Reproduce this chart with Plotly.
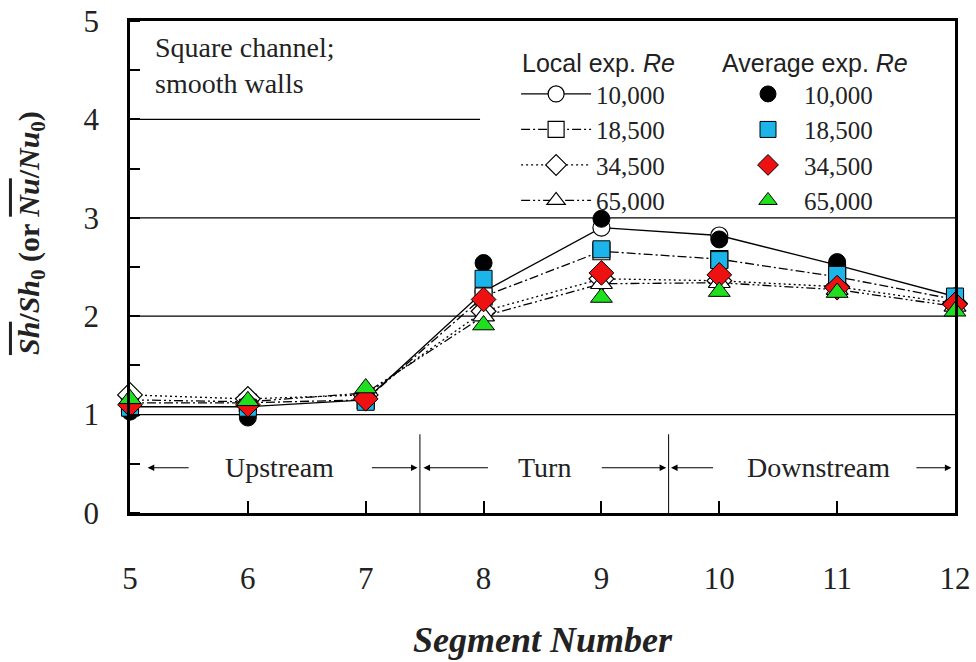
import plotly.graph_objects as go

# Segment positions along the channel
segments = [5, 6, 7, 8, 9, 10, 11, 12]

# Reynolds number labels
re_labels = ["10,000", "18,500", "34,500", "65,000"]

# Local experiment (lines with open symbols)
local_10000 = [1.08, 1.08, 1.15, 2.25, 2.90, 2.82, 2.52, 2.20]
local_18500 = [1.12, 1.12, 1.15, 2.20, 2.66, 2.58, 2.40, 2.17]
local_34500 = [1.20, 1.16, 1.20, 2.05, 2.38, 2.36, 2.30, 2.13]
local_65000 = [1.15, 1.13, 1.22, 2.00, 2.33, 2.34, 2.27, 2.10]

# Average experiment (filled symbols)
avg_10000 = [1.03, 0.97, 1.15, 2.54, 2.99, 2.78, 2.55, 2.20]
avg_18500 = [1.07, 1.07, 1.13, 2.38, 2.68, 2.57, 2.42, 2.20]
avg_34500 = [1.10, 1.10, 1.16, 2.17, 2.44, 2.42, 2.29, 2.12]
avg_65000 = [1.16, 1.14, 1.27, 1.91, 2.19, 2.25, 2.24, 2.05]

local_series = [local_10000, local_18500, local_34500, local_65000]
avg_series = [avg_10000, avg_18500, avg_34500, avg_65000]

symbols = ["circle", "square", "diamond", "triangle-up"]
line_dashes = ["solid", "9px,3px,2px,3px", "2px,3px", "9px,3px,2px,3px,2px,3px"]
fill_colors = ["#000000", "#1BB5EA", "#EE1111", "#1FE01F"]
marker_sizes = [17, 17, 19, 19]

SERIF = "Liberation Serif"
SANS = "Liberation Sans"
TEXT = "#222222"

fig = go.Figure()

for i, ys in enumerate(local_series):
    fig.add_trace(go.Scatter(
        x=segments, y=ys, mode="lines+markers",
        name=re_labels[i], legend="legend",
        line=dict(color="black", width=1.3, dash=line_dashes[i]),
        marker=dict(symbol=symbols[i], size=marker_sizes[i], color="white",
                    line=dict(color="black", width=1.2)),
        cliponaxis=False,
    ))

for i, ys in enumerate(avg_series):
    fig.add_trace(go.Scatter(
        x=segments, y=ys, mode="markers",
        name=re_labels[i], legend="legend2",
        marker=dict(symbol=symbols[i], size=marker_sizes[i], color=fill_colors[i],
                    line=dict(color="black", width=1)),
        cliponaxis=False,
    ))

# Horizontal reference lines
shapes = []
for yv in [1, 2, 3]:
    shapes.append(dict(type="line", xref="x", yref="y", x0=5, x1=12, y0=yv, y1=yv,
                       line=dict(color="black", width=1.3), layer="below"))
shapes.append(dict(type="line", xref="x", yref="y", x0=5, x1=7.97, y0=4, y1=4,
                   line=dict(color="black", width=1.3), layer="below"))
# Region separators
for xv in [7.46, 9.57]:
    shapes.append(dict(type="line", xref="x", yref="y", x0=xv, x1=xv, y0=0, y1=0.8,
                       line=dict(color="black", width=1), layer="below"))
fig.update_layout(shapes=shapes)

annotations = []
# Region labels with arrows
regions = [
    ("Upstream", 6.27, (5.51, 5.15), (7.04, 7.44)),
    ("Turn", 8.52, (8.05, 7.49), (8.99, 9.55)),
    ("Downstream", 10.84, (9.96, 9.59), (11.66, 11.97)),
]
ya = 0.46
for label, xc, left_arrow, right_arrow in regions:
    annotations.append(dict(x=xc, y=ya, xref="x", yref="y", text=label, showarrow=False,
                            font=dict(family=SERIF, size=28, color=TEXT)))
    for tail, head in (left_arrow, right_arrow):
        annotations.append(dict(x=head, y=ya, ax=tail, ay=ya, xref="x", yref="y",
                                axref="x", ayref="y", text="", showarrow=True,
                                arrowhead=2, arrowsize=1.1, arrowwidth=1.2,
                                arrowcolor="black"))

annotations.append(dict(x=0.028, y=0.982, xref="paper", yref="paper", xanchor="left",
                        yanchor="top", align="left", showarrow=False,
                        text="Square channel;<br>smooth walls",
                        font=dict(family=SERIF, size=28, color=TEXT)))
annotations.append(dict(x=0.4727, y=0.915, xref="paper", yref="paper", xanchor="left",
                        yanchor="middle", showarrow=False, text="Local exp. <i>Re</i>",
                        font=dict(family=SANS, size=25, color=TEXT)))
annotations.append(dict(x=0.715, y=0.915, xref="paper", yref="paper", xanchor="left",
                        yanchor="middle", showarrow=False, text="Average exp. <i>Re</i>",
                        font=dict(family=SANS, size=25, color=TEXT)))

# Vertical axis title
ytitle = ("<b><span style='text-decoration:overline'><i>Sh</i></span>/<i>Sh</i><sub>0</sub>"
          " (or <span style='text-decoration:overline'><i>Nu</i></span>/<i>Nu</i><sub>0</sub>)</b>")
annotations.append(dict(x=-0.12, y=0.569, xref="paper", yref="paper", xanchor="center",
                        yanchor="middle", textangle=-90, showarrow=False, text=ytitle,
                        font=dict(family=SERIF, size=30, color=TEXT)))
fig.update_layout(annotations=annotations)

fig.update_layout(
    width=976, height=662,
    margin=dict(l=130, r=21, t=21, b=149),
    paper_bgcolor="white", plot_bgcolor="white",
    font=dict(family=SERIF, color=TEXT),
    xaxis=dict(range=[5, 12], tickvals=segments, ticks="inside", ticklen=12,
               tickwidth=2, tickcolor="black", showgrid=False, zeroline=False,
               showline=True, linecolor="black", linewidth=2.5, mirror=True,
               tickfont=dict(family=SERIF, size=31), ticklabelstandoff=36,
               automargin=False,
               title=dict(text="<b><i>Segment Number</i></b>",
                          font=dict(family=SERIF, size=36), standoff=32)),
    yaxis=dict(range=[0, 5], tickvals=[0, 1, 2, 3, 4, 5], ticks="", showgrid=False,
               zeroline=False, showline=True, linecolor="black", linewidth=2.5,
               mirror=True, tickfont=dict(family=SERIF, size=31), ticklabelstandoff=22,
               automargin=False,
               minor=dict(dtick=0.5, ticks="inside", ticklen=10, tickwidth=2,
                          tickcolor="black", showgrid=False)),
    legend=dict(x=0.468, y=0.898, xanchor="left", yanchor="top",
                bgcolor="rgba(0,0,0,0)", font=dict(family=SERIF, size=25),
                itemwidth=70, tracegroupgap=0),
    legend2=dict(x=0.7297, y=0.898, xanchor="left", yanchor="top",
                 bgcolor="rgba(0,0,0,0)", font=dict(family=SERIF, size=25),
                 itemwidth=62, tracegroupgap=0),
)

fig.write_html("out.html")
